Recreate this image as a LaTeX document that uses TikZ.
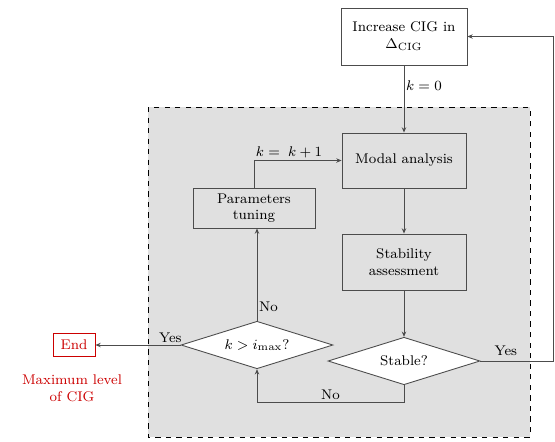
\documentclass[tikz,border=0pt]{standalone}
\usetikzlibrary{shapes.geometric,arrows.meta}
\begin{document}
\begin{tikzpicture}[x=0.02cm,y=-0.02cm,font=\footnotesize,
  blk/.style={draw=black!70,line width=0.5pt,align=center,inner sep=1pt},
  dec/.style={draw=black!70,line width=0.5pt,diamond,aspect=3.2,fill=white,inner sep=0pt,
    minimum width=3.04cm,minimum height=0.95cm},
  arr/.style={draw=black!70,line width=0.5pt,-{Stealth[length=3pt,width=2.5pt]}},
  lbl/.style={inner sep=1pt}]
\useasboundingbox (0,0) rectangle (555,441);
\draw[dashed,fill=black!12,line width=0.5pt] (148,107) rectangle (530,437);
\node[blk,fill=white,minimum width=2.52cm,minimum height=1.14cm] (inc) at (404,36.5) {Increase CIG in\\$\Delta_{\mathrm{CIG}}$};
\node[blk,minimum width=2.48cm,minimum height=1.1cm] (modal) at (404,160.5) {Modal analysis};
\node[blk,minimum width=2.48cm,minimum height=1.12cm] (stab) at (404,262) {Stability\\assessment};
\node[blk,minimum width=2.44cm,minimum height=0.8cm] (tune) at (254,208) {Parameters\\tuning};
\node[dec] (kmax) at (257,345) {$k > i_{\max}$?};
\node[dec] (stable) at (404,361) {Stable?};
\node[blk,draw=red!80!black,text=red!80!black,minimum width=0.84cm,minimum height=0.46cm] (end) at (74,345) {End};
\node[text=red!80!black,align=center] (maxlvl) at (72,388) {Maximum level\\of CIG};
\coordinate (cr) at (553,361);
\draw[arr] (inc) -- node[lbl,right,pos=0.3] {$k = 0$} (modal);
\draw[arr] (modal) -- (stab);
\draw[arr] (stab) -- (stable);
\draw[arr] (stable.south) -- ++(0,17) -| node[lbl,above,pos=0.25] {No} (kmax.south);
\draw[arr] (kmax.north) -- node[lbl,right,pos=0.15] {No} (kmax.north |- tune.south);
\draw[arr] (tune.north) |- node[lbl,above,pos=0.7] {$k = \;k+1$} (modal.west);
\draw[arr] (kmax.west) -- node[lbl,above,pos=0.12] {Yes} (end.east);
\draw[arr] (stable.east) -- node[lbl,above=2pt,pos=0.35] {Yes} (cr) |- (inc.east);
\end{tikzpicture}
\end{document}
